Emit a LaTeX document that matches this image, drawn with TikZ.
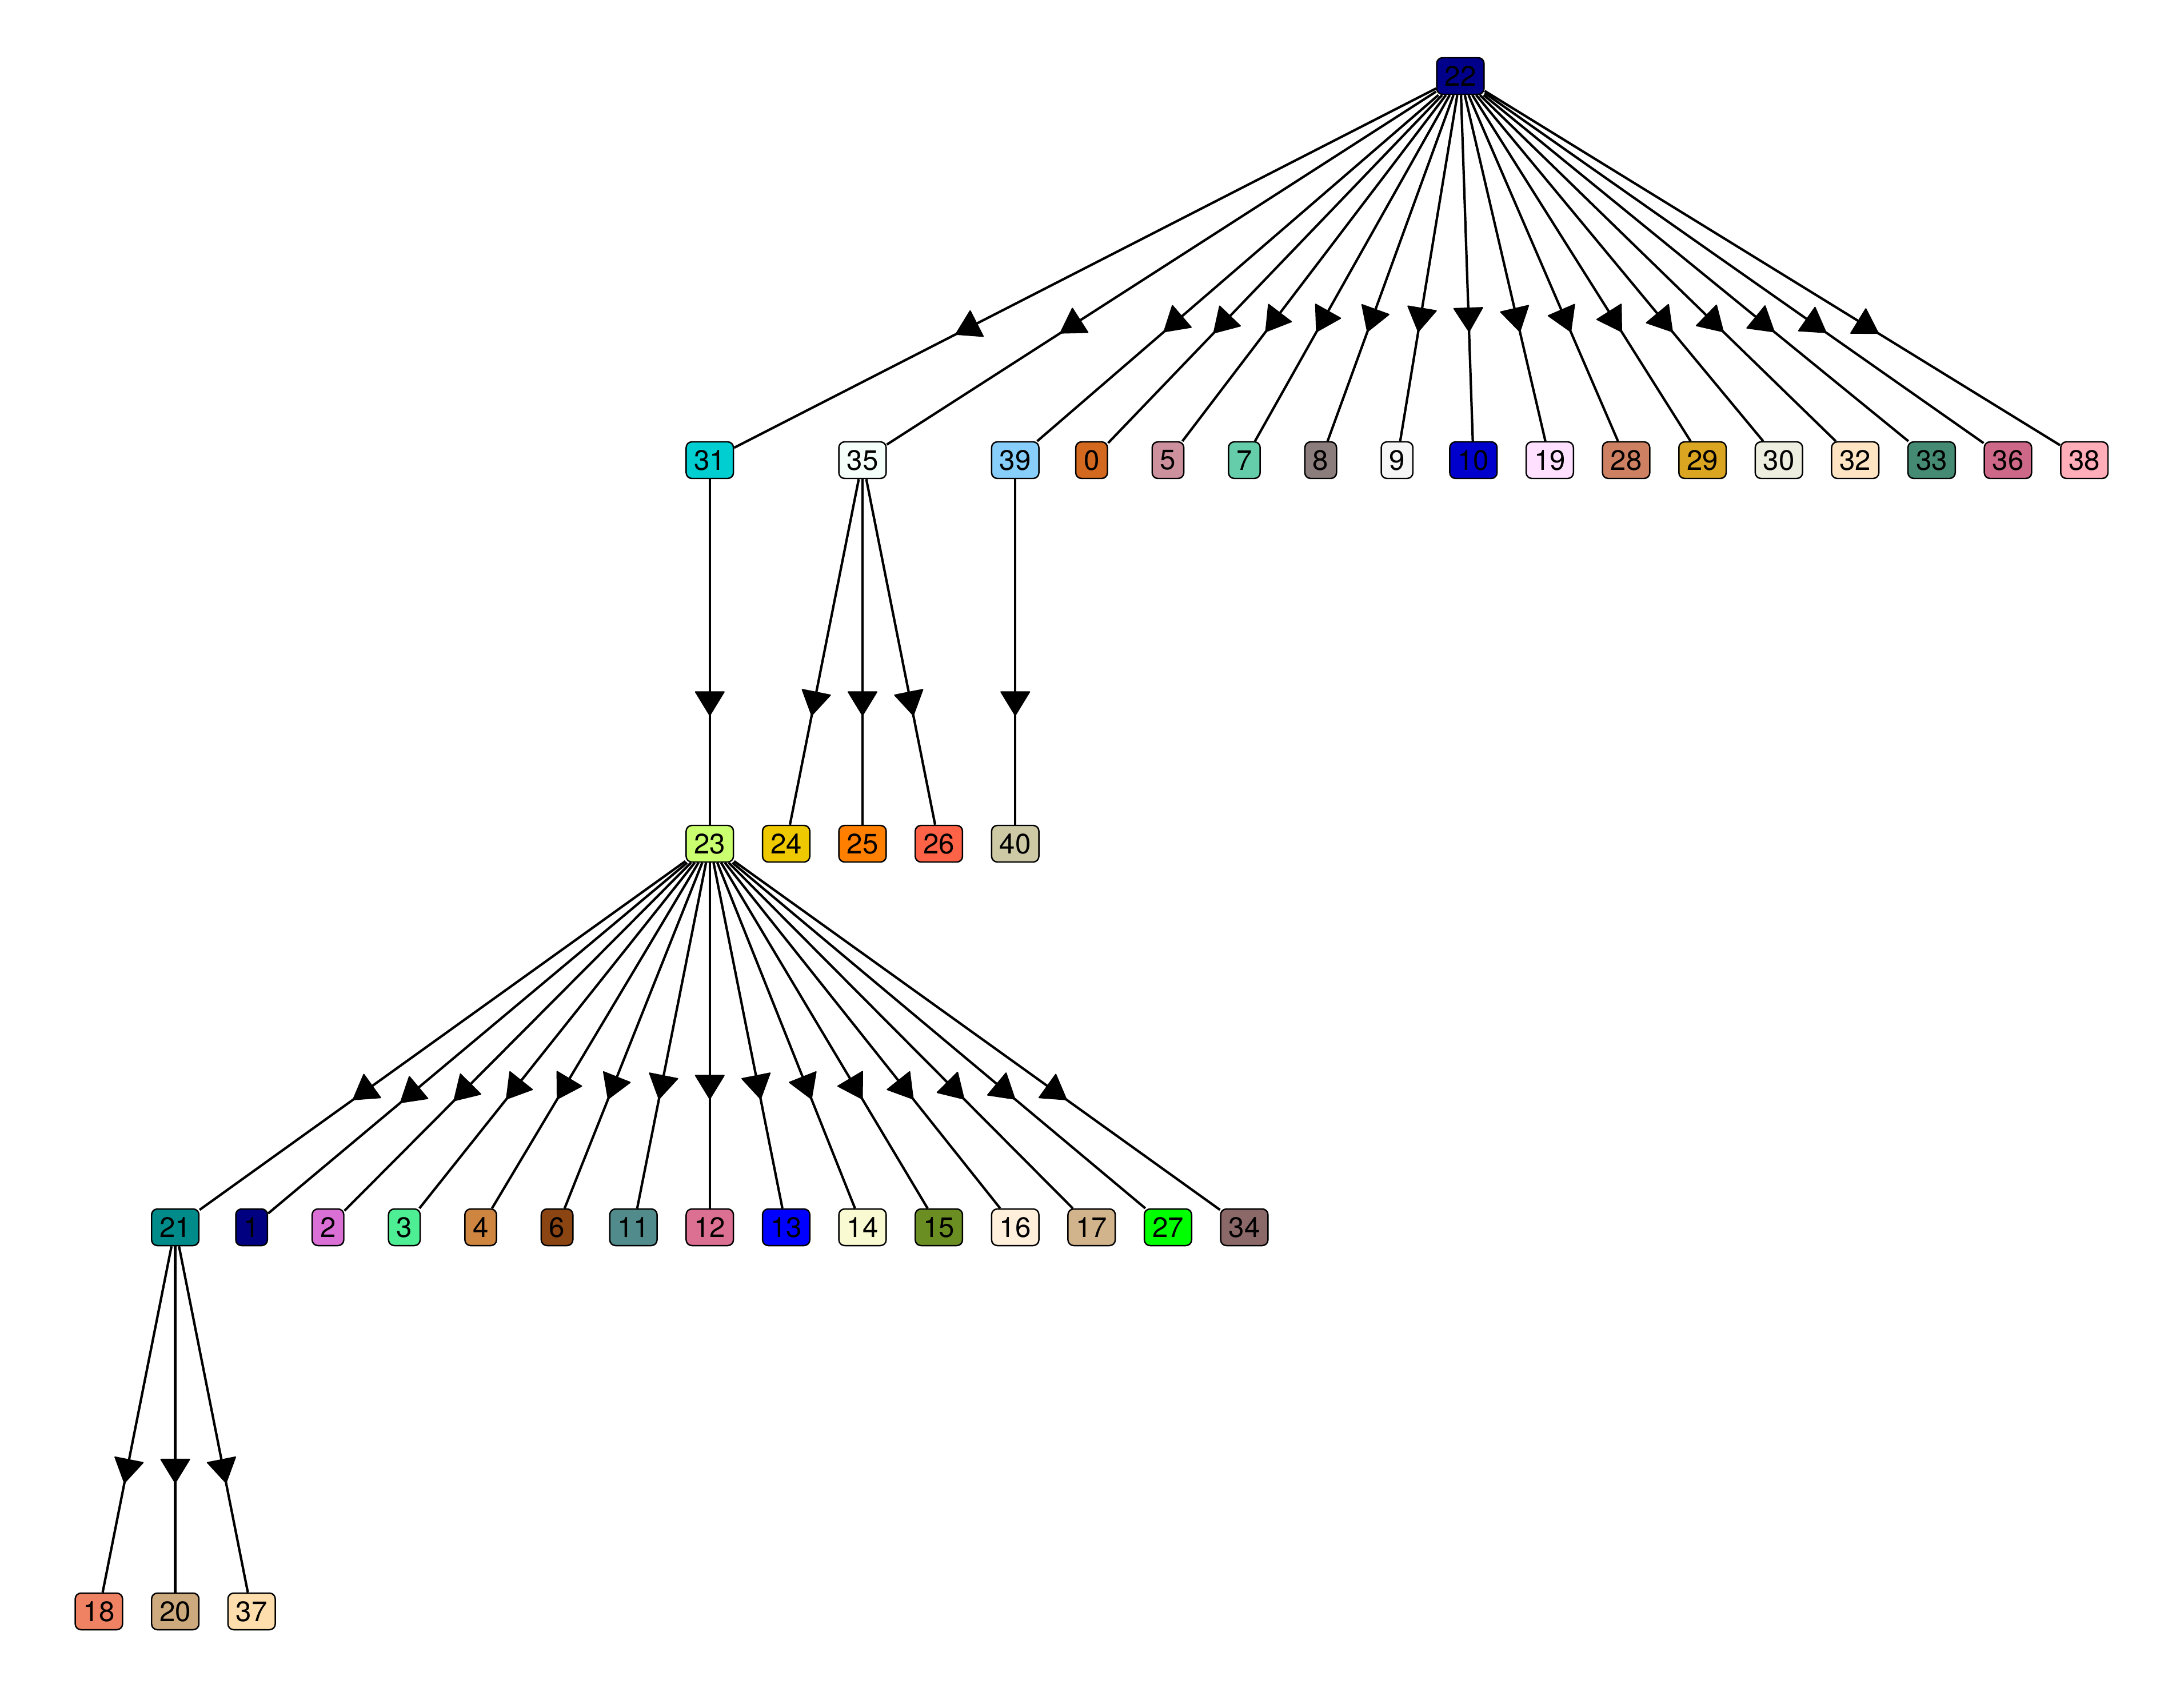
\documentclass[tikz,border=0pt]{standalone}
\usepackage{fontspec}
\setmainfont{TeX Gyre Heros}
\usepackage{tikz}
\usetikzlibrary{arrows.meta,decorations.markings}

\definecolor{c0}{HTML}{D2691E}
\definecolor{c1}{HTML}{000080}
\definecolor{c2}{HTML}{DA70D6}
\definecolor{c3}{HTML}{4EEE94}
\definecolor{c4}{HTML}{CD853F}
\definecolor{c5}{HTML}{CD919E}
\definecolor{c6}{HTML}{8B4513}
\definecolor{c7}{HTML}{66CDAA}
\definecolor{c8}{HTML}{8B7D7B}
\definecolor{c9}{HTML}{F5F5F5}
\definecolor{c10}{HTML}{0000CD}
\definecolor{c11}{HTML}{528B8B}
\definecolor{c12}{HTML}{DB7093}
\definecolor{c13}{HTML}{0000FF}
\definecolor{c14}{HTML}{FAFAD2}
\definecolor{c15}{HTML}{6B8E23}
\definecolor{c16}{HTML}{FFEFDB}
\definecolor{c17}{HTML}{D2B48C}
\definecolor{c18}{HTML}{EE8262}
\definecolor{c19}{HTML}{FFE1FF}
\definecolor{c20}{HTML}{CDAA7D}
\definecolor{c21}{HTML}{008B8B}
\definecolor{c22}{HTML}{00008B}
\definecolor{c23}{HTML}{CAFF70}
\definecolor{c24}{HTML}{EEC900}
\definecolor{c25}{HTML}{FF7F00}
\definecolor{c26}{HTML}{FF6347}
\definecolor{c27}{HTML}{00FF00}
\definecolor{c28}{HTML}{CD8162}
\definecolor{c29}{HTML}{DAA520}
\definecolor{c30}{HTML}{EEEEE0}
\definecolor{c31}{HTML}{00CED1}
\definecolor{c32}{HTML}{FFE4C4}
\definecolor{c33}{HTML}{458B74}
\definecolor{c34}{HTML}{8B6969}
\definecolor{c35}{HTML}{F5FFFA}
\definecolor{c36}{HTML}{CD6889}
\definecolor{c37}{HTML}{FFDEAD}
\definecolor{c38}{HTML}{FFAEB9}
\definecolor{c39}{HTML}{87CEFA}
\definecolor{c40}{HTML}{CDC9A5}

\begin{document}
\begin{tikzpicture}[scale=1,
    vtx/.style={draw, line width=0.7pt, rounded corners=0.1cm,
        minimum height=0.64cm, inner xsep=0.14cm, inner ysep=0pt,
        font=\fontsize{14}{16}\selectfont},
    edge/.style={line width=1.2pt, postaction={decorate},
        decoration={markings, mark=at position 0.685 with
            {\filldraw[line width=0.6pt, line join=round]
                (-0.01,0) -- (-0.42,0.25) -- (-0.42,-0.25) -- cycle;}}}]
            \useasboundingbox (0,0) rectangle (38.21,-29.53);
            % root
            \node[vtx, fill=c22] (n22) at (25.55,-1.33) {22};
            % first level
            \node[vtx, fill=c31] (n31) at (12.418,-8.05) {31};
            \node[vtx, fill=c35] (n35) at (15.090,-8.05) {35};
            \node[vtx, fill=c39] (n39) at (17.762,-8.05) {39};
            \node[vtx, fill=c0]  (n0)  at (19.098,-8.05) {0};
            \node[vtx, fill=c5]  (n5)  at (20.434,-8.05) {5};
            \node[vtx, fill=c7]  (n7)  at (21.770,-8.05) {7};
            \node[vtx, fill=c8]  (n8)  at (23.106,-8.05) {8};
            \node[vtx, fill=c9]  (n9)  at (24.442,-8.05) {9};
            \node[vtx, fill=c10] (n10) at (25.778,-8.05) {10};
            \node[vtx, fill=c19] (n19) at (27.114,-8.05) {19};
            \node[vtx, fill=c28] (n28) at (28.450,-8.05) {28};
            \node[vtx, fill=c29] (n29) at (29.786,-8.05) {29};
            \node[vtx, fill=c30] (n30) at (31.122,-8.05) {30};
            \node[vtx, fill=c32] (n32) at (32.458,-8.05) {32};
            \node[vtx, fill=c33] (n33) at (33.794,-8.05) {33};
            \node[vtx, fill=c36] (n36) at (35.130,-8.05) {36};
            \node[vtx, fill=c38] (n38) at (36.466,-8.05) {38};
            % second level
            \node[vtx, fill=c23] (n23) at (12.418,-14.76) {23};
            \node[vtx, fill=c24] (n24) at (13.754,-14.76) {24};
            \node[vtx, fill=c25] (n25) at (15.090,-14.76) {25};
            \node[vtx, fill=c26] (n26) at (16.426,-14.76) {26};
            \node[vtx, fill=c40] (n40) at (17.762,-14.76) {40};
            % third level
            \node[vtx, fill=c21] (n21) at (3.066,-21.47) {21};
            \node[vtx, fill=c1]  (n1)  at (4.402,-21.47) {1};
            \node[vtx, fill=c2]  (n2)  at (5.738,-21.47) {2};
            \node[vtx, fill=c3]  (n3)  at (7.074,-21.47) {3};
            \node[vtx, fill=c4]  (n4)  at (8.410,-21.47) {4};
            \node[vtx, fill=c6]  (n6)  at (9.746,-21.47) {6};
            \node[vtx, fill=c11] (n11) at (11.082,-21.47) {11};
            \node[vtx, fill=c12] (n12) at (12.418,-21.47) {12};
            \node[vtx, fill=c13] (n13) at (13.754,-21.47) {13};
            \node[vtx, fill=c14] (n14) at (15.090,-21.47) {14};
            \node[vtx, fill=c15] (n15) at (16.426,-21.47) {15};
            \node[vtx, fill=c16] (n16) at (17.762,-21.47) {16};
            \node[vtx, fill=c17] (n17) at (19.098,-21.47) {17};
            \node[vtx, fill=c27] (n27) at (20.434,-21.47) {27};
            \node[vtx, fill=c34] (n34) at (21.770,-21.47) {34};
            % fourth level
            \node[vtx, fill=c18] (n18) at (1.730,-28.19) {18};
            \node[vtx, fill=c20] (n20) at (3.066,-28.19) {20};
            \node[vtx, fill=c37] (n37) at (4.402,-28.19) {37};
            % edges
            \draw[edge] (n22) -- (n31);
            \draw[edge] (n22) -- (n35);
            \draw[edge] (n22) -- (n39);
            \draw[edge] (n22) -- (n0);
            \draw[edge] (n22) -- (n5);
            \draw[edge] (n22) -- (n7);
            \draw[edge] (n22) -- (n8);
            \draw[edge] (n22) -- (n9);
            \draw[edge] (n22) -- (n10);
            \draw[edge] (n22) -- (n19);
            \draw[edge] (n22) -- (n28);
            \draw[edge] (n22) -- (n29);
            \draw[edge] (n22) -- (n30);
            \draw[edge] (n22) -- (n32);
            \draw[edge] (n22) -- (n33);
            \draw[edge] (n22) -- (n36);
            \draw[edge] (n22) -- (n38);
            \draw[edge] (n31) -- (n23);
            \draw[edge] (n35) -- (n24);
            \draw[edge] (n35) -- (n25);
            \draw[edge] (n35) -- (n26);
            \draw[edge] (n39) -- (n40);
            \draw[edge] (n23) -- (n21);
            \draw[edge] (n23) -- (n1);
            \draw[edge] (n23) -- (n2);
            \draw[edge] (n23) -- (n3);
            \draw[edge] (n23) -- (n4);
            \draw[edge] (n23) -- (n6);
            \draw[edge] (n23) -- (n11);
            \draw[edge] (n23) -- (n12);
            \draw[edge] (n23) -- (n13);
            \draw[edge] (n23) -- (n14);
            \draw[edge] (n23) -- (n15);
            \draw[edge] (n23) -- (n16);
            \draw[edge] (n23) -- (n17);
            \draw[edge] (n23) -- (n27);
            \draw[edge] (n23) -- (n34);
            \draw[edge] (n21) -- (n18);
            \draw[edge] (n21) -- (n20);
            \draw[edge] (n21) -- (n37);
            \end{tikzpicture}
\end{document}
